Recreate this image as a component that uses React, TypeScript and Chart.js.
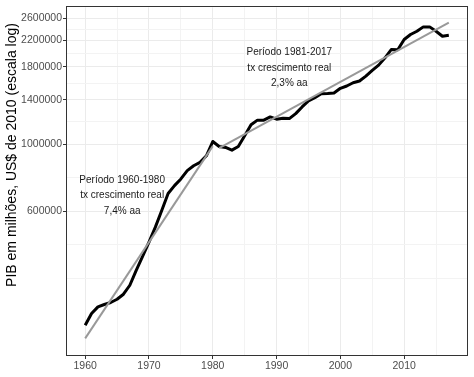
import React, { useEffect, useRef } from 'react';
import { Chart, registerables } from 'chart.js';

Chart.register(...registerables);

const years = [
  1960, 1961, 1962, 1963, 1964, 1965, 1966, 1967, 1968, 1969,
  1970, 1971, 1972, 1973, 1974, 1975, 1976, 1977, 1978, 1979,
  1980, 1981, 1982, 1983, 1984, 1985, 1986, 1987, 1988, 1989,
  1990, 1991, 1992, 1993, 1994, 1995, 1996, 1997, 1998, 1999,
  2000, 2001, 2002, 2003, 2004, 2005, 2006, 2007, 2008, 2009,
  2010, 2011, 2012, 2013, 2014, 2015, 2016, 2017,
];

const gdp = [
  252000, 275500, 289700, 295000, 299500, 307000, 319000, 341600, 382600, 425600,
  474200, 531500, 603000, 687000, 729000, 767000, 817000, 848000, 870000, 915000,
  1020000, 982000, 975000, 955000, 982000, 1065000, 1158000, 1200000, 1200000, 1230000,
  1209000, 1218000, 1214000, 1261000, 1327000, 1389000, 1424000, 1468000, 1470000, 1476000,
  1529000, 1556000, 1595000, 1616000, 1678000, 1752000, 1824000, 1928000, 2055000, 2050000,
  2217000, 2302000, 2360000, 2440000, 2440000, 2360000, 2273000, 2290000,
];

const trend1Years = [1960, 1980];
const trend1Values = [228000, 985000];
const trend2Years = [1981, 2017];
const trend2Values = [970000, 2520000];

const yMajorTicks = [600000, 1000000, 1400000, 1800000, 2200000, 2600000];
const yMinorTicks = [360000, 464758, 774597, 1183216, 1587451, 1989975, 2391652];
const xMajorTicks = [1960, 1970, 1980, 1990, 2000, 2010];
const xMinorTicks = [1965, 1975, 1985, 1995, 2005, 2015];

const yTitle = 'PIB em milhões, US$ de 2010 (escala log)';
const note1 = ['Período 1960-1980', 'tx crescimento real', '7,4% aa'];
const note2 = ['Período 1981-2017', 'tx crescimento real', '2,3% aa'];

const FONT = '"Liberation Sans", Arial, sans-serif';

const decorPlugin = {
  id: 'decor',
  afterDraw(chart: any) {
    const { ctx, chartArea } = chart;
    const xs = chart.scales.x;
    const ys = chart.scales.y;
    ctx.save();
    // panel border
    ctx.strokeStyle = '#333333';
    ctx.lineWidth = 1;
    const l = Math.round(chartArea.left) - 0.5;
    const t = Math.round(chartArea.top) - 0.5;
    const r = Math.round(chartArea.right) + 0.5;
    const b = Math.round(chartArea.bottom) + 0.5;
    ctx.strokeRect(l, t, r - l, b - t);

    // annotations
    ctx.fillStyle = '#1a1a1a';
    ctx.font = `10px ${FONT}`;
    ctx.textAlign = 'center';
    ctx.textBaseline = 'middle';
    const drawNote = (lines: string[], xv: number, yv: number) => {
      const cx = xs.getPixelForValue(xv);
      const cy = ys.getPixelForValue(yv);
      lines.forEach((s, i) => ctx.fillText(s, cx, cy + (i - 1) * 15.5));
    };
    drawNote(note1, 1965.8, 676000);
    drawNote(note2, 1992.0, 1787000);

    // y title
    ctx.fillStyle = '#000000';
    ctx.font = `14px ${FONT}`;
    ctx.translate(12.5, 155);
    ctx.rotate(-Math.PI / 2);
    ctx.fillText(yTitle, 0, 0);
    ctx.restore();
  },
};

export default function App() {
  const ref = useRef<HTMLCanvasElement | null>(null);

  useEffect(() => {
    if (!ref.current) return;
    const isYMajor = (v: number) => yMajorTicks.includes(v);
    const isXMajor = (v: number) => xMajorTicks.includes(v);
    const chart = new Chart(ref.current, {
      type: 'line',
      data: {
        datasets: [
          {
            label: 'Tendência 1960-1980',
            data: trend1Years.map((x, i) => ({ x, y: trend1Values[i] })),
            borderColor: '#999999',
            borderWidth: 2,
            pointRadius: 0,
            order: 0,
          },
          {
            label: 'Tendência 1981-2017',
            data: trend2Years.map((x, i) => ({ x, y: trend2Values[i] })),
            borderColor: '#999999',
            borderWidth: 2,
            pointRadius: 0,
            order: 0,
          },
          {
            label: 'PIB',
            data: years.map((x, i) => ({ x, y: gdp[i] })),
            borderColor: '#000000',
            borderWidth: 3,
            pointRadius: 0,
            borderJoinStyle: 'round',
            order: 1,
          },
        ],
      },
      options: {
        animation: false,
        responsive: false,
        maintainAspectRatio: false,
        devicePixelRatio: 1,
        layout: { padding: { left: 0, top: 6, right: 7, bottom: 0 } },
        plugins: {
          legend: { display: false },
          tooltip: { enabled: false },
        },
        scales: {
          x: {
            type: 'linear',
            min: 1957.15,
            max: 2019.85,
            afterBuildTicks: (scale: any) => {
              scale.ticks = [...xMajorTicks, ...xMinorTicks]
                .sort((a, b) => a - b)
                .map((v) => ({ value: v }));
            },
            afterFit: (scale: any) => {
              scale.height = 22;
            },
            border: { display: false },
            grid: {
              color: (c: any) => (isXMajor(c.tick?.value) ? '#EBEBEB' : '#F3F3F3'),
              lineWidth: 1,
              tickLength: 4,
              tickWidth: 1,
              tickColor: (c: any) => (isXMajor(c.tick?.value) ? '#333333' : 'rgba(0,0,0,0)'),
            },
            ticks: {
              autoSkip: false,
              maxRotation: 0,
              padding: 1,
              color: '#4D4D4D',
              font: { family: FONT, size: 10.5 },
              callback: (v: any) => (isXMajor(Number(v)) ? String(v) : ''),
            },
          },
          y: {
            type: 'logarithmic',
            min: 200900,
            max: 2832000,
            afterBuildTicks: (scale: any) => {
              scale.ticks = [...yMajorTicks, ...yMinorTicks]
                .sort((a, b) => a - b)
                .map((v) => ({ value: v }));
            },
            afterFit: (scale: any) => {
              scale.width = 67;
            },
            border: { display: false },
            grid: {
              color: (c: any) => (isYMajor(c.tick?.value) ? '#EBEBEB' : '#F3F3F3'),
              lineWidth: 1,
              tickLength: 4,
              tickWidth: 1,
              tickColor: (c: any) => (isYMajor(c.tick?.value) ? '#333333' : 'rgba(0,0,0,0)'),
            },
            ticks: {
              autoSkip: false,
              padding: 1,
              color: '#4D4D4D',
              font: { family: FONT, size: 10.5 },
              callback: (v: any) => (isYMajor(Number(v)) ? String(v) : ''),
            },
          },
        },
      },
      plugins: [decorPlugin],
    } as any);
    return () => chart.destroy();
  }, []);

  return (
    <div style={{ position: 'fixed', left: 0, top: 0, width: 474, height: 377, background: '#ffffff' }}>
      <canvas ref={ref} width={474} height={377} style={{ display: 'block', width: 474, height: 377 }} />
    </div>
  );
}
